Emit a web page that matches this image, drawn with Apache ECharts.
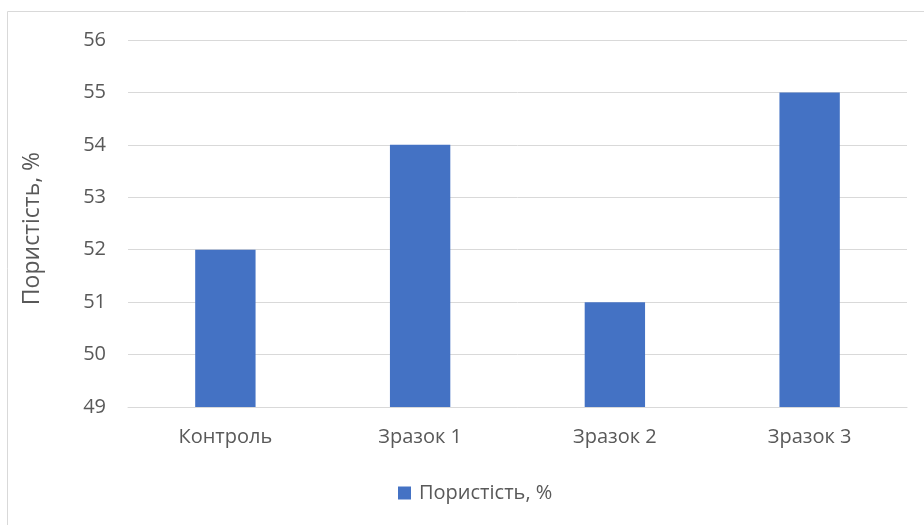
<!DOCTYPE html>
<html><head><meta charset="utf-8">
<script src="https://cdn.jsdelivr.net/npm/echarts@6/dist/echarts.min.js"></script>
<style>html,body{margin:0;padding:0;background:#fff}#c{width:924px;height:525px}</style>
</head><body><div id="c"></div>
<script>
const categories = ['Контроль', 'Зразок 1', 'Зразок 2', 'Зразок 3'];
const porosity = [52, 54, 51, 55];
const seriesName = 'Пористість, %';
const axisTitle = 'Пористість, %';

const chart = echarts.init(document.getElementById('c'));
const font = '"Open Sans", "Noto Sans", sans-serif';
chart.setOption({
  animation: false,
  textStyle: { fontFamily: font },
  graphic: [{
    type: 'rect', shape: { x: 7.5, y: 11.5, width: 930, height: 530 },
    style: { fill: 'none', stroke: '#d9d9d9', lineWidth: 1 }, silent: true
  }],
  grid: { left: 128, right: 17, top: 40, bottom: 118 },
  legend: {
    top: 483, left: 398, icon: 'rect', itemWidth: 13, itemHeight: 13, itemGap: 6, padding: 0,
    textStyle: { fontSize: 20, color: '#595959', fontFamily: font, padding: [0, 0, 0, 3] }
  },
  xAxis: {
    type: 'category', data: categories,
    axisLine: { lineStyle: { color: '#d9d9d9', width: 1 } },
    axisTick: { show: false },
    axisLabel: { fontSize: 20, color: '#595959', margin: 20, fontFamily: font }
  },
  yAxis: {
    type: 'value', min: 49, max: 56, interval: 1,
    name: axisTitle, nameLocation: 'middle', nameGap: 84, nameRotate: 90,
    nameTextStyle: { fontSize: 23, color: '#595959', fontFamily: font, padding: [0, 10, 0, 0] },
    axisLine: { show: false }, axisTick: { show: false },
    axisLabel: { fontSize: 20, color: '#595959', margin: 22, fontFamily: font },
    splitLine: { lineStyle: { color: '#d9d9d9', width: 1 } }
  },
  series: [{
    name: seriesName, type: 'bar', data: porosity, barWidth: '31%',
    itemStyle: { color: '#4472C4' }
  }]
});
</script></body></html>
